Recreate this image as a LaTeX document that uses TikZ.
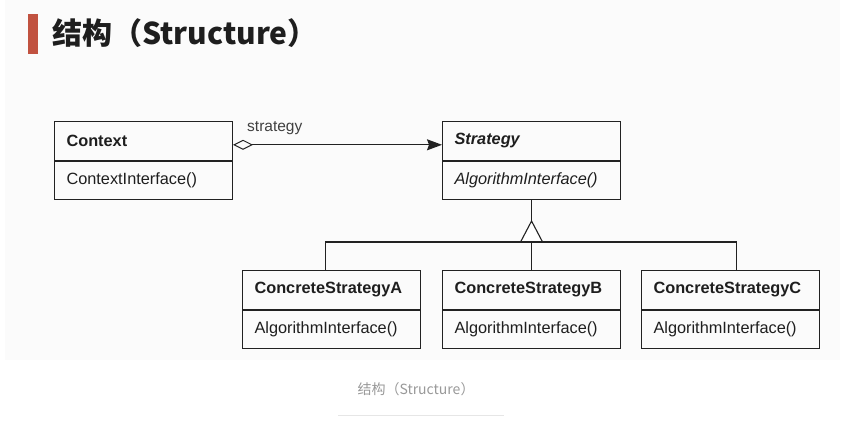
\documentclass[tikz,border=0pt]{standalone}
\usepackage{fontspec}
\setmainfont{Liberation Sans}
\newfontfamily\cjk{Noto Sans CJK SC}
\usetikzlibrary{arrows.meta}
\definecolor{linec}{HTML}{222222}
\definecolor{txtc}{HTML}{1E1E1E}
\definecolor{redbar}{RGB}{193,82,64}
\definecolor{slidebg}{HTML}{FBFBFB}
\definecolor{capc}{HTML}{999999}
\definecolor{rulec}{HTML}{E6E6E6}
\tikzset{
  cls/.style={draw=linec, line width=1.1pt, anchor=north west, minimum height=38.5pt,
    inner xsep=12pt, inner ysep=0pt, align=left, text=txtc,
    font=\fontsize{16.3}{18}\selectfont},
  wide/.style={text width=154pt},
  hdr/.style={font=\fontsize{16.3}{18}\selectfont\bfseries},
  conn/.style={draw=linec, line width=1.1pt},
}
\begin{document}
\begin{tikzpicture}[x=1pt,y=-1pt]
\useasboundingbox (0,0) rectangle (845,424);
\fill[white] (0,0) rectangle (845,424);
\fill[slidebg] (5,0) rectangle (840,360);
% title
\fill[redbar] (28,14) rectangle (38,54);
\node[anchor=west, inner sep=0pt, text=txtc, font=\cjk\bfseries\fontsize{30}{34}\selectfont] (title) at (52,33) {结构（Structure）};
% Context
\node[cls, wide, hdr] (ctx) at (54,121) {Context};
\node[cls, wide] (ctxb) at (ctx.south west) {ContextInterface()};
% Strategy
\node[cls, wide, hdr, font=\fontsize{16.3}{18}\selectfont\bfseries\itshape] (strat) at (442,121) {Strategy};
\node[cls, wide, font=\fontsize{16.3}{18}\selectfont\itshape] (stratb) at (strat.south west) {AlgorithmInterface()};
% Concrete strategies
\node[cls, wide, hdr] (ca) at (242,270) {ConcreteStrategyA};
\node[cls, wide] (cab) at (ca.south west) {AlgorithmInterface()};
\node[cls, wide, hdr] (cb) at (442,270) {ConcreteStrategyB};
\node[cls, wide] (cbb) at (cb.south west) {AlgorithmInterface()};
\node[cls, wide, hdr] (cc) at (641,270) {ConcreteStrategyC};
\node[cls, wide] (ccb) at (cc.south west) {AlgorithmInterface()};
% association
\draw[conn, {Diamond[open,length=20pt,width=10pt,line width=1pt]}-{Stealth[length=15pt,width=11pt,inset=2pt]}]
  ([yshift=-4pt]ctx.east) -- ([yshift=-4pt]strat.west);
\node[anchor=west, inner sep=0pt, text=black!75, font=\fontsize{15.5}{18}\selectfont] (lbl) at (247,128) {strategy};
% generalization
\coordinate (apex) at (stratb.south |- 0,221);
\coordinate (bus) at (stratb.south |- 0,242);
\coordinate (ta) at ([xshift=-6pt]ca.north);
\coordinate (tc) at ([xshift=6pt]cc.north);
\draw[conn] (stratb.south) -- (apex);
\draw[conn, fill=white, line join=miter] (apex) -- ([xshift=-11pt]bus) -- ([xshift=11pt]bus) -- cycle;
\draw[conn] (ta) -- (ta |- bus) -- (tc |- bus) -- (tc);
\draw[conn] (bus) -- (cb.north);
% caption
\node[inner sep=0pt, text=capc, font=\cjk\fontsize{14}{16}\selectfont] (cap) at (416,389) {结构（Structure）};
\draw[rulec, line width=1pt] (338,415) -- (504,415);
\end{tikzpicture}
\end{document}
